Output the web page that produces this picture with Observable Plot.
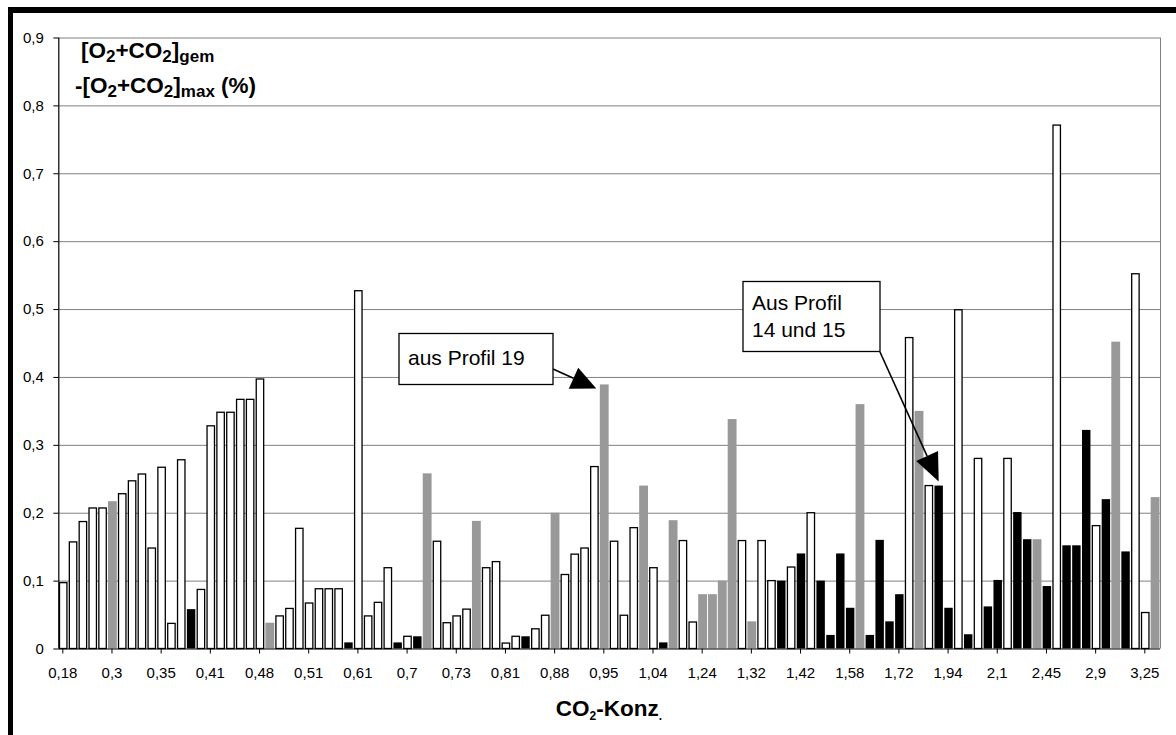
<!DOCTYPE html>
<html><head><meta charset="utf-8">
<script src="https://cdn.jsdelivr.net/npm/d3@7"></script>
<script src="https://cdn.jsdelivr.net/npm/@observablehq/plot@0.6"></script>
<style>
body{margin:0;background:#fff;}
#wrap{position:relative;width:1176px;height:735px;overflow:hidden;background:#fff;}
#wrap svg{position:absolute;left:0;top:0;}
#frame{position:absolute;left:8px;top:7px;width:1168px;height:728px;border-top:6px solid #000;border-left:5px solid #000;box-sizing:border-box;pointer-events:none;}
</style></head><body><div id="wrap"><div id="frame"></div></div>
<script>
// One bar per CO2 concentration class (112 classes, labelled every 5th)
const values = [
  0.097,0.157,0.187,0.207,0.207,0.217,0.228,0.247,0.257,0.148,
  0.267,0.037,0.278,0.058,0.087,0.328,0.348,0.348,0.367,0.367,
  0.397,0.038,0.048,0.059,0.177,0.067,0.088,0.088,0.088,0.009,
  0.527,0.048,0.068,0.119,0.009,0.018,0.018,0.258,0.158,0.038,
  0.048,0.058,0.188,0.119,0.128,0.008,0.018,0.018,0.029,0.049,
  0.200,0.109,0.139,0.148,0.268,0.389,0.158,0.049,0.178,0.240,
  0.119,0.009,0.189,0.159,0.039,0.080,0.080,0.100,0.338,0.159,
  0.040,0.159,0.100,0.100,0.120,0.140,0.200,0.100,0.020,0.140,
  0.060,0.360,0.020,0.160,0.040,0.080,0.458,0.350,0.240,0.240,
  0.060,0.499,0.021,0.280,0.062,0.101,0.280,0.201,0.161,0.161,
  0.092,0.771,0.152,0.152,0.322,0.181,0.220,0.452,0.143,0.552,
  0.053,0.223
];
// W = white (outlined), G = grey, B = black
const seriesCode = [
  "W","W","W","W","W","G","W","W","W","W",
  "W","W","W","B","W","W","W","W","W","W",
  "W","G","W","W","W","W","W","W","W","B",
  "W","W","W","W","B","W","B","G","W","W",
  "W","W","G","W","W","W","W","B","W","W",
  "G","W","W","W","W","G","W","W","W","G",
  "W","B","G","W","W","G","G","G","G","W",
  "G","W","W","B","W","B","W","B","B","B",
  "B","G","B","B","B","B","W","G","W","B",
  "B","W","B","W","B","B","W","B","B","G",
  "B","W","B","B","B","W","B","G","B","W",
  "W","G"
];
const tickLabels = ["0,18","0,3","0,35","0,41","0,48","0,51","0,61","0,7","0,73","0,81","0,88","0,95",
  "1,04","1,24","1,32","1,42","1,58","1,72","1,94","2,1","2,45","2,9","3,25"];
const yTicks = [0,0.1,0.2,0.3,0.4,0.5,0.6,0.7,0.8,0.9];

const data = values.map((v, i) => ({i, v, s: seriesCode[i]}));
const fmt = d => d === 0 ? "0" : d.toFixed(1).replace(".", ",");
const FONT = "'Liberation Sans', Arial, sans-serif";
const grey = "#999999";

const plot = Plot.plot({
  width: 1176, height: 735,
  marginLeft: 58.3, marginRight: 16, marginTop: 37.5, marginBottom: 86.5,
  style: {fontFamily: FONT, fontSize: "15px", color: "#000", background: "transparent", overflow: "visible"},
  x: {domain: [0, values.length]},
  y: {domain: [0, 0.9]},
  marks: [
    Plot.ruleY(yTicks.slice(1), {stroke: "#808080", strokeWidth: 1}),
    Plot.ruleX([values.length], {stroke: "#808080", strokeWidth: 1}),
    Plot.rectY(data.filter(d => d.s === "G"), {x1: "i", x2: d => d.i + 1, y: "v", fill: grey, insetLeft: 0.5, insetRight: 0.5}),
    Plot.rectY(data.filter(d => d.s === "B"), {x1: "i", x2: d => d.i + 1, y: "v", fill: "#000", insetLeft: 0.7, insetRight: 0.7}),
    Plot.rectY(data.filter(d => d.s === "W"), {x1: "i", x2: d => d.i + 1, y: "v", fill: "#fff", stroke: "#000", strokeWidth: 1.3, insetLeft: 1.2, insetRight: 1.2}),
    Plot.ruleX([0], {stroke: "#000", strokeWidth: 1.2}),
    Plot.ruleY([0], {stroke: "#000", strokeWidth: 1.2}),
    Plot.axisY({ticks: yTicks, tickFormat: fmt, tickSize: 5, tickPadding: 10, fontSize: 15, label: null}),
    Plot.axisX({ticks: d3.range(0, values.length, 5), tickFormat: i => tickLabels[i / 5], tickSize: 5, tickPadding: 13, dx: 4, fontSize: 15, label: null})
  ]
});
document.getElementById("wrap").insertBefore(plot, document.getElementById("frame"));

const sx = plot.scale("x"), sy = plot.scale("y");
const svg = d3.select(plot);
const g = svg.append("g").attr("font-family", FONT).attr("text-anchor", "start");

function richText(sel, x, y, parts, size, subSize, anchor) {
  const t = sel.append("text").attr("x", x).attr("y", y).attr("font-weight", "bold")
    .attr("font-size", size).attr("text-anchor", anchor || "start").attr("fill", "#000");
  let down = false;
  parts.forEach(([str, sub]) => {
    const ts = t.append("tspan").text(str);
    if (sub && !down) { ts.attr("dy", 4).attr("font-size", subSize); down = true; }
    else if (!sub && down) { ts.attr("dy", -4); down = false; }
    else if (sub) ts.attr("font-size", subSize);
  });
  return t;
}
// Y title
richText(g, 81, 58, [["[O"],["2",1],["+CO"],["2",1],["]"],["gem",1]], 22.5, 17);
richText(g, 75, 93, [["-[O"],["2",1],["+CO"],["2",1],["]"],["max",1],[" (%)"]], 22.5, 17);
// X title
richText(g, 609, 716, [["CO"],["2",1],["-Konz"],[".",1]], 22.5, 12, "middle");

// Annotations
function arrow(x1, y1, x2, y2, len, half) {
  const a = Math.atan2(y2 - y1, x2 - x1);
  const bx = x2 - len * Math.cos(a), by = y2 - len * Math.sin(a);
  g.append("line").attr("x1", x1).attr("y1", y1).attr("x2", bx).attr("y2", by).attr("stroke", "#000").attr("stroke-width", 1.6);
  const px = -Math.sin(a) * half, py = Math.cos(a) * half;
  g.append("path").attr("d", `M${x2},${y2}L${bx + px},${by + py}L${bx - px},${by - py}Z`).attr("fill", "#000");
}
// Box 1: aus Profil 19 -> bar class 55
g.append("rect").attr("x", 399).attr("y", 333.5).attr("width", 154).attr("height", 51).attr("fill", "#fff").attr("stroke", "#000").attr("stroke-width", 1.3);
g.append("text").attr("x", 408).attr("y", 365).attr("font-size", 21).attr("text-anchor", "start").text("aus Profil 19");
arrow(553, 369, sx.apply(55) - 3, sy.apply(values[55]) + 4, 25, 11.5);
// Box 2: Aus Profil 14 und 15 -> bar class 89
g.append("rect").attr("x", 743).attr("y", 281.5).attr("width", 137).attr("height", 70).attr("fill", "#fff").attr("stroke", "#000").attr("stroke-width", 1.3);
g.append("text").attr("x", 752).attr("y", 310).attr("font-size", 21).attr("text-anchor", "start").text("Aus Profil");
g.append("text").attr("x", 752).attr("y", 337).attr("font-size", 21).attr("text-anchor", "start").text("14 und 15");
arrow(880, 352, sx.apply(89.5), sy.apply(values[89]) - 4, 28, 12);
</script></body></html>
